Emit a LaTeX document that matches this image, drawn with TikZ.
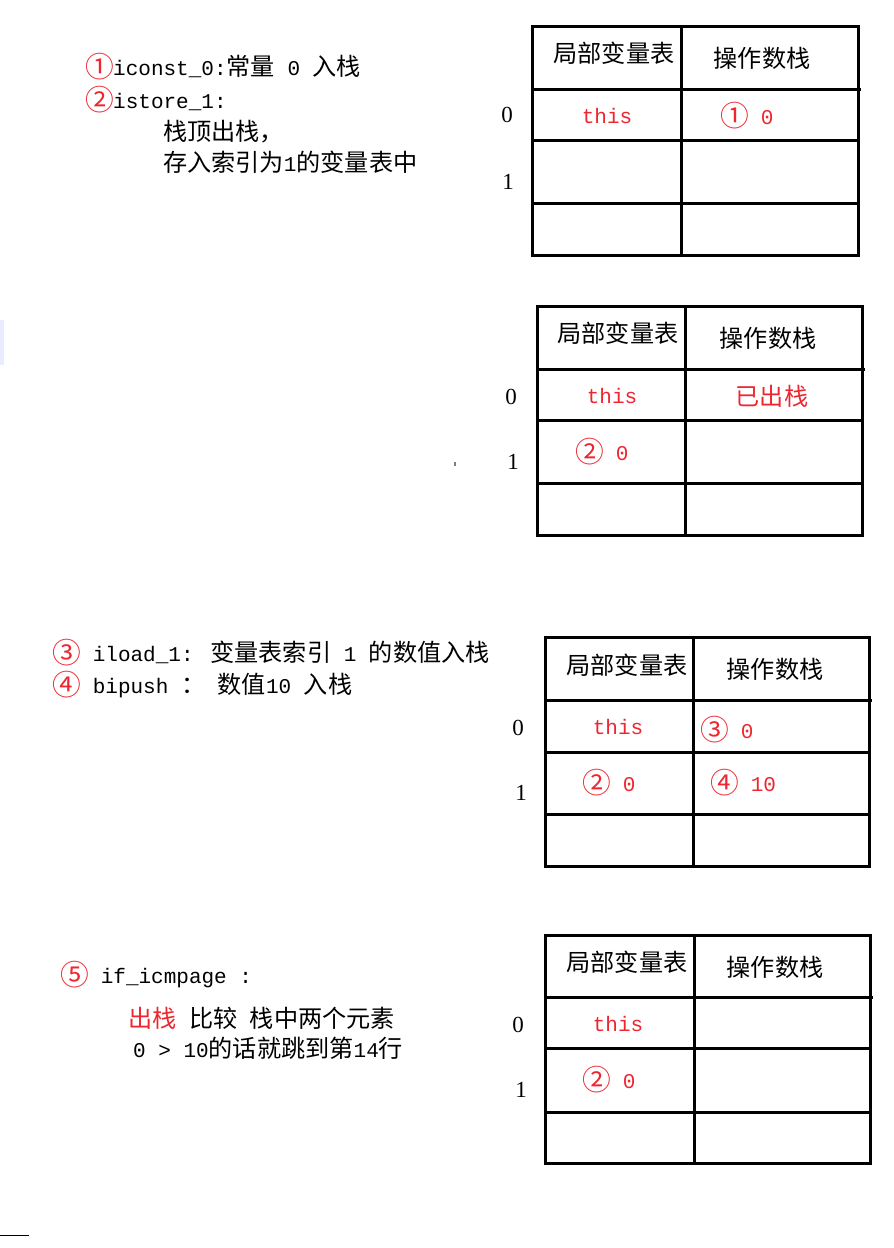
\documentclass[tikz,border=0pt]{standalone}
\usepackage{fontspec}
\setmainfont{Liberation Mono}
\newfontfamily\cjk[Scale=1.15]{Noto Sans CJK SC}
\newfontfamily\numfont{Liberation Serif}
\definecolor{stackred}{RGB}{238,38,48}
\newcommand\cnum[1]{\textcolor{stackred}{\raisebox{-2.5pt}{\makebox[26pt][c]{\fontsize{25}{28}\selectfont\cjk #1}}}}

\begin{document}
\begin{tikzpicture}[x=1pt,y=-1pt,
  grid/.style={line width=3pt},
  hd/.style={font=\fontsize{21}{25}\selectfont\cjk},
  idx/.style={font=\fontsize{23}{26}\selectfont\numfont},
  val/.style={text=stackred,font=\fontsize{21}{25}\selectfont},
  txt/.style={anchor=west,inner sep=0pt,font=\fontsize{21}{25}\selectfont}]
  \useasboundingbox (0,0) rectangle (894,1248);

  \node[txt] (t1) at (87,67) {\cnum{①}iconst\_0:{\cjk 常量} 0 {\cjk 入栈}};
  \node[txt] (t2) at (87,100) {\cnum{②}istore\_1:};
  \node[txt] (t3) at (163,132) {\cjk 栈顶出栈，};
  \node[txt] (t4) at (163,162) {{\cjk 存入索引为}1{\cjk 的变量表中}};

  \draw[grid] (532,26) rectangle (858,255);
  \draw[grid] (681,26) -- (681,255);
  \draw[grid] (532,89) -- (861,89);
  \draw[grid] (532,140) -- (858,140);
  \draw[grid] (532,203) -- (858,203);
  \node[hd] (h1a) at (614,53) {局部变量表};
  \node[hd] (h1b) at (762,58) {操作数栈};
  \node[idx] (i1a) at (507,115) {0};
  \node[idx] (i1b) at (508,182) {1};
  \node[val] (v1a) at (607,116) {this};
  \node[val,anchor=west,inner sep=0pt] (v1b) at (722,116) {\cnum{①} 0};

  \draw[grid] (537,306) rectangle (862,535);
  \draw[grid] (685,306) -- (685,535);
  \draw[grid] (537,369) -- (865,369);
  \draw[grid] (537,420) -- (862,420);
  \draw[grid] (537,483) -- (862,483);
  \node[hd] (h2a) at (618,333) {局部变量表};
  \node[hd] (h2b) at (768,338) {操作数栈};
  \node[idx] (i2a) at (511,397) {0};
  \node[idx] (i2b) at (513,462) {1};
  \node[val] (v2a) at (612,396) {this};
  \node[val] (v2b) at (772,396) {\cjk 已出栈};
  \node[val,anchor=west,inner sep=0pt] (v2c) at (577,452) {\cnum{②} 0};

  \node[txt] (t5) at (54,653) {\cnum{③} iload\_1: {\cjk 变量表索引} 1 {\cjk 的数值入栈}};
  \node[txt] (t6) at (54,685) {\cnum{④} bipush {\cjk ：} {\cjk 数值}10 {\cjk 入栈}};

  \draw[grid] (545,637) rectangle (869,866);
  \draw[grid] (693,637) -- (693,866);
  \draw[grid] (545,700) -- (872,700);
  \draw[grid] (545,752) -- (869,752);
  \draw[grid] (545,814) -- (869,814);
  \node[hd] (h3a) at (627,665) {局部变量表};
  \node[hd] (h3b) at (775,669) {操作数栈};
  \node[idx] (i3a) at (518,728) {0};
  \node[idx] (i3b) at (521,793) {1};
  \node[val] (v3a) at (618,727) {this};
  \node[val,anchor=west,inner sep=0pt] (v3b) at (702,730) {\cnum{③} 0};
  \node[val,anchor=west,inner sep=0pt] (v3c) at (584,783) {\cnum{②} 0};
  \node[val,anchor=west,inner sep=0pt] (v3d) at (712,783) {\cnum{④} 10};

  \node[txt] (t7) at (62,975) {\cnum{⑤} if\_icmpage :};
  \node[txt] (t8) at (128,1018) {\textcolor{stackred}{\cjk 出栈} {\cjk 比较} {\cjk 栈中两个元素}};
  \node[txt] (t9) at (133,1048) {0 > 10{\cjk 的话就跳到第}14{\cjk 行}};

  \draw[grid] (545,935) rectangle (870,1163);
  \draw[grid] (694,935) -- (694,1163);
  \draw[grid] (545,997) -- (873,997);
  \draw[grid] (545,1048) -- (870,1048);
  \draw[grid] (545,1112) -- (870,1112);
  \node[hd] (h4a) at (627,962) {局部变量表};
  \node[hd] (h4b) at (775,967) {操作数栈};
  \node[idx] (i4a) at (518,1025) {0};
  \node[idx] (i4b) at (521,1090) {1};
  \node[val] (v4a) at (618,1024) {this};
  \node[val,anchor=west,inner sep=0pt] (v4b) at (584,1080) {\cnum{②} 0};

  \fill[blue!8] (0,320) rectangle (4,365);
  \fill[gray] (454,462) rectangle (456,466);
  \draw[line width=1pt] (0,1235) -- (29,1235);
\end{tikzpicture}
\end{document}
